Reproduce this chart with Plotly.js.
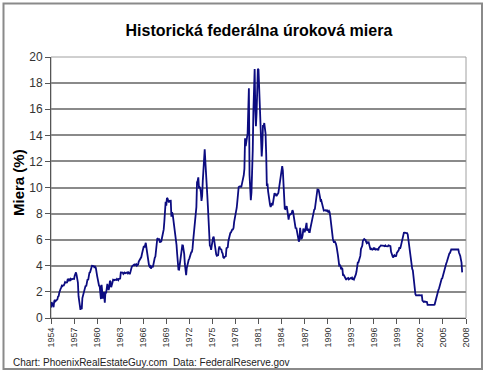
<!DOCTYPE html>
<html>
<head>
<meta charset="utf-8">
<script src="https://cdn.plot.ly/plotly-3.0.1.min.js"></script>
<style>
html,body{margin:0;padding:0;background:#fff;}
#chart{width:491px;height:377px;}
</style>
</head>
<body>
<div id="chart"></div>
<script>
// Monthly federal funds rate (%), first value = July 1954
const rates1954to1959 = [
  0.80,1.22,1.07,0.85,0.83,1.28,
  1.39,1.29,1.35,1.43,1.43,1.64,1.68,1.96,2.18,2.24,2.35,2.48,
  2.45,2.50,2.50,2.62,2.75,2.71,2.75,2.73,2.95,2.96,2.88,2.94,
  2.84,3.00,2.96,3.00,3.00,3.00,2.99,3.24,3.47,3.50,3.28,2.98,
  2.72,1.67,1.20,1.26,0.63,0.93,0.68,1.53,1.76,1.80,2.27,2.42,
  2.48,2.43,2.80,2.96,2.90,3.39,3.47,3.50,3.76,3.98,4.00,3.99
];
const rates1960s = [
  3.99,3.97,3.84,3.92,3.85,3.32,3.23,2.98,2.60,2.47,2.44,1.98,
  1.45,2.54,2.02,1.49,1.98,1.73,1.17,2.00,1.88,2.26,2.61,2.33,
  2.15,2.37,2.85,2.78,2.36,2.68,2.71,2.93,2.90,2.90,2.94,2.93,
  2.92,3.00,2.98,2.90,3.00,2.99,3.02,3.49,3.48,3.50,3.48,3.38,
  3.48,3.48,3.43,3.47,3.50,3.50,3.42,3.50,3.45,3.36,3.52,3.85,
  3.90,3.98,4.04,4.09,4.10,4.04,4.09,4.12,4.01,4.08,4.10,4.32,
  4.42,4.60,4.65,4.67,4.90,5.17,5.30,5.53,5.40,5.53,5.76,5.40,
  4.94,5.00,4.53,4.05,3.94,3.98,3.79,3.90,3.99,3.88,4.13,4.51,
  4.61,4.71,5.05,5.76,6.11,6.07,6.02,6.03,5.78,5.91,5.82,6.02,
  6.30,6.61,6.79,7.41,8.67,8.90,8.61,9.19,9.15,9.00,8.85,8.97
];
const rates1970s = [
  8.98,8.98,7.76,8.10,7.95,7.61,7.21,6.61,6.29,6.20,5.60,4.90,
  4.14,3.72,3.71,4.16,4.63,4.91,5.31,5.56,5.55,5.20,4.91,4.14,
  3.50,3.29,3.83,4.17,4.27,4.46,4.55,4.80,4.87,5.04,5.06,5.33,
  5.94,6.58,7.09,7.12,7.84,8.49,10.40,10.50,10.78,10.01,10.03,9.95,
  9.65,8.97,9.35,10.51,11.31,11.93,12.92,12.01,11.34,10.06,9.45,8.53,
  7.13,6.24,5.54,5.49,5.22,5.55,6.10,6.14,6.24,5.82,5.22,5.20,
  4.87,4.77,4.84,4.82,5.29,5.48,5.31,5.29,5.25,5.02,4.95,4.65,
  4.61,4.68,4.69,4.73,5.35,5.39,5.42,5.90,6.14,6.47,6.51,6.56,
  6.70,6.78,6.79,6.89,7.36,7.60,7.81,8.04,8.45,8.96,9.76,10.03,
  10.07,10.06,10.09,10.01,10.24,10.29,10.47,10.94,11.43,13.77,13.18,13.78
];
const rates1980s = [
  13.82,14.13,17.19,17.61,10.98,9.47,9.03,9.61,10.87,12.81,15.85,18.90,
  19.08,15.93,14.70,15.72,18.52,19.10,19.04,17.82,15.87,15.08,13.31,12.37,
  13.22,14.78,14.68,14.94,14.45,14.15,12.59,10.12,10.31,9.71,9.20,8.95,
  8.68,8.51,8.77,8.80,8.63,8.98,9.37,9.56,9.45,9.48,9.34,9.47,
  9.56,9.59,9.91,10.29,10.32,11.06,11.23,11.64,11.30,9.99,9.43,8.38,
  8.35,8.50,8.58,8.27,7.97,7.53,7.88,7.90,7.92,7.99,8.05,8.27,
  8.14,7.86,7.48,6.99,6.85,6.92,6.56,6.17,5.89,5.85,6.04,6.91,
  6.43,6.10,6.13,6.37,6.85,6.73,6.58,6.73,7.22,7.29,6.69,6.77,
  6.83,6.58,6.58,6.87,7.09,7.51,7.75,8.01,8.19,8.30,8.35,8.76,
  9.12,9.36,9.85,9.84,9.81,9.53,9.24,8.99,9.02,8.84,8.55,8.45
];
const rates1990s = [
  8.23,8.24,8.28,8.26,8.18,8.29,8.15,8.13,8.20,8.11,7.81,7.31,
  6.91,6.25,6.12,5.91,5.78,5.90,5.82,5.66,5.45,5.21,4.81,4.43,
  4.03,4.06,3.98,3.73,3.82,3.76,3.25,3.30,3.22,3.10,3.09,2.92,
  3.02,3.03,3.07,2.96,3.00,3.04,3.06,3.03,3.09,2.99,3.02,2.96,
  3.05,3.25,3.34,3.56,4.01,4.25,4.26,4.47,4.73,4.76,5.29,5.45,
  5.53,5.92,5.98,6.05,6.01,6.00,5.85,5.74,5.80,5.76,5.80,5.60,
  5.56,5.22,5.31,5.22,5.24,5.27,5.40,5.22,5.30,5.24,5.31,5.29,
  5.25,5.19,5.39,5.51,5.50,5.56,5.52,5.54,5.54,5.50,5.52,5.50,
  5.56,5.51,5.49,5.45,5.49,5.56,5.54,5.55,5.51,5.07,4.83,4.68,
  4.63,4.76,4.81,4.74,4.74,4.76,4.99,5.07,5.22,5.20,5.42,5.30
];
const rates2000to2008 = [
  5.45,5.73,5.85,6.02,6.27,6.53,6.54,6.50,6.52,6.51,6.51,6.40,
  5.98,5.49,5.31,4.80,4.21,3.97,3.77,3.65,3.07,2.49,2.09,1.82,
  1.73,1.74,1.73,1.75,1.75,1.75,1.73,1.74,1.75,1.75,1.34,1.24,
  1.24,1.26,1.25,1.26,1.26,1.22,1.01,1.03,1.01,1.01,1.00,0.98,
  1.00,1.01,1.00,1.00,1.00,1.03,1.26,1.43,1.61,1.76,1.93,2.16,
  2.28,2.50,2.63,2.79,3.00,3.04,3.26,3.50,3.62,3.78,4.00,4.16,
  4.29,4.49,4.59,4.79,4.94,4.99,5.24,5.25,5.25,5.25,5.25,5.24,
  5.25,5.26,5.26,5.25,5.25,5.25,5.26,5.02,4.94,4.76,4.49,4.24,
  3.50
];
const firstYear = 1954, firstMonth = 7;
const tickLabels = ['1954','1957','1960','1963','1966','1969','1972','1975','1978',
  '1981','1984','1987','1990','1993','1996','1999','2002','2005','2008'];
const yTicks = [0,2,4,6,8,10,12,14,16,18,20];

const titleText = 'Historická federálna úroková miera';
const yTitleText = 'Miera (%)';
const footerText = 'Chart: PhoenixRealEstateGuy.com  Data: FederalReserve.gov';

const rates = [].concat(rates1954to1959, rates1960s, rates1970s, rates1980s, rates1990s, rates2000to2008);
const xs = rates.map((_, i) => firstYear + (firstMonth - 1) / 12 + i / 12);
const tickVals = tickLabels.map(t => +t + (firstMonth - 1) / 12);

const font = 'Liberation Sans, Arial, sans-serif';
const W = 491, H = 377, L = 51, R = 466, T = 57, B = 318;
const px = v => (v - L) / (R - L);
const py = v => (B - v) / (B - T);

const trace = {
  x: xs, y: rates, type: 'scatter', mode: 'lines',
  line: {color: '#0c0c80', width: 1.8},
  hoverinfo: 'x+y'
};

const layout = {
  width: W, height: H,
  margin: {l: L, r: W - R, t: T, b: H - B, pad: 0},
  paper_bgcolor: '#ffffff', plot_bgcolor: '#ffffff',
  showlegend: false,
  font: {family: font, color: '#222'},
  title: {text: titleText, font: {family: font, size: 16, color: '#000', weight: 'bold'},
          x: 0.501, xanchor: 'center', xref: 'paper', y: 1 - 30 / H, yanchor: 'middle', yref: 'container'},
  xaxis: {
    range: [tickVals[0], tickVals[tickVals.length - 1]],
    tickmode: 'array', tickvals: tickVals, ticktext: tickLabels,
    tickangle: -90, tickfont: {size: 9, color: '#333'},
    ticks: 'outside', ticklen: 5, tickcolor: '#555', tickwidth: 1,
    showgrid: false, zeroline: false,
    showline: true, linecolor: '#555', linewidth: 1
  },
  yaxis: {
    range: [0, 20],
    tickmode: 'array', tickvals: yTicks,
    tickfont: {size: 12, color: '#333'},
    ticks: 'outside', ticklen: 5, tickcolor: '#555', tickwidth: 1,
    showgrid: true, gridcolor: '#8a8a8a', gridwidth: 2,
    zeroline: false, showline: true, linecolor: '#555', linewidth: 1
  },
  shapes: [
    {type: 'rect', xref: 'paper', yref: 'paper', x0: 0, x1: 1, y0: 0, y1: 1,
     line: {color: '#a0a0a0', width: 1}, layer: 'below'},
    {type: 'rect', xref: 'paper', yref: 'paper', x0: px(3.5), x1: px(482), y0: py(3.5), y1: py(369),
     line: {color: '#8a8a8a', width: 2}, fillcolor: 'rgba(0,0,0,0)'}
  ],
  annotations: [
    {text: yTitleText, xref: 'paper', yref: 'paper', x: px(18), y: py(183),
     xanchor: 'center', yanchor: 'middle', textangle: -90, showarrow: false,
     font: {family: font, size: 15, color: '#000', weight: 'bold'}},
    {text: footerText, xref: 'paper', yref: 'paper', x: px(11), y: py(362),
     xanchor: 'left', yanchor: 'middle', showarrow: false,
     font: {family: font, size: 10, color: '#222'}}
  ]
};

Plotly.newPlot('chart', [trace], layout, {displayModeBar: false, staticPlot: true});
</script>
</body>
</html>
